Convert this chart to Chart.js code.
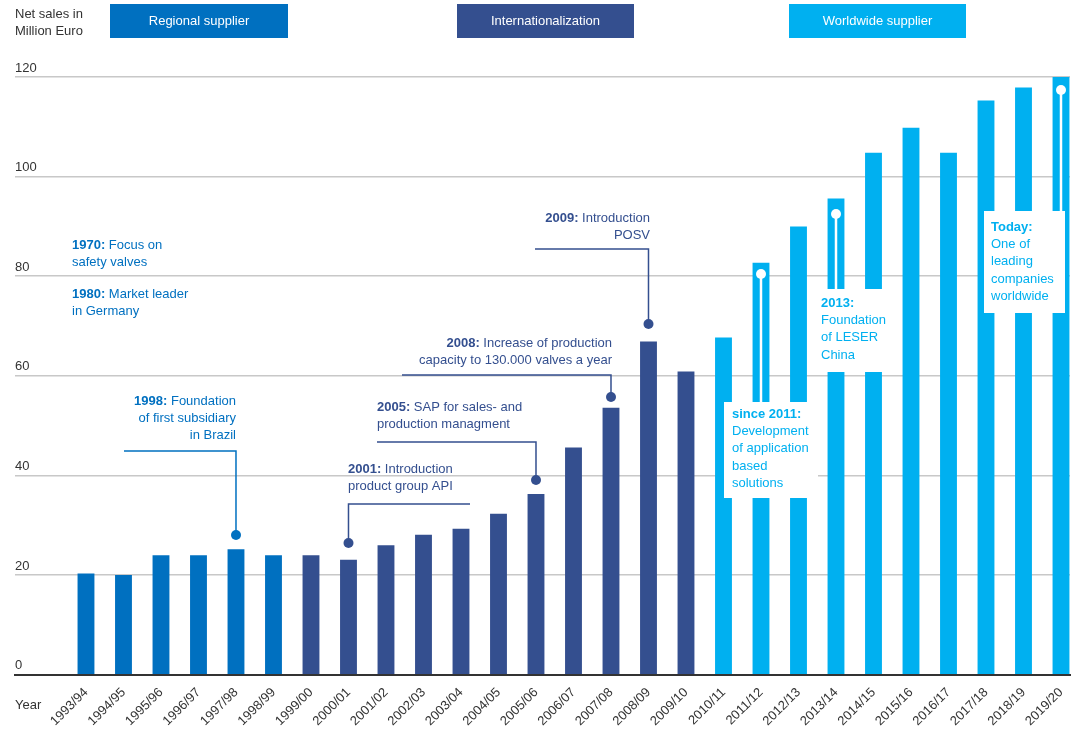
<!DOCTYPE html>
<html>
<head>
<meta charset="utf-8">
<script src="https://cdn.jsdelivr.net/npm/chart.js@4.4.1/dist/chart.umd.min.js"></script>
<style>
html, body { margin: 0; padding: 0; background: #fff; }
</style>
</head>
<body>
<canvas id="chart" width="1076" height="731"></canvas>
<script>
// Datos
const years = ['1993/94', '1994/95', '1995/96', '1996/97', '1997/98', '1998/99', '1999/00', '2000/01', '2001/02',
    '2002/03', '2003/04', '2004/05', '2005/06', '2006/07', '2007/08', '2008/09', '2009/10', '2010/11', '2011/12',
    '2012/13', '2013/14', '2014/15', '2015/16', '2016/17', '2017/18', '2018/19', '2019/20']
const sales = [20.3, 20.0, 24.0, 24.0, 25.2, 24.0, 24.0, 23.1, 26.0, 28.1, 29.3, 32.3, 36.3, 45.6, 53.6, 66.9, 60.9,
    67.7, 82.7, 90.0, 95.6, 104.8, 109.8, 104.8, 115.3, 117.9, 120.0]
// fase de cada barra: 0 regional, 1 internacionalización, 2 mundial
const phases = [0, 0, 0, 0, 0, 0, 1, 1, 1, 1, 1, 1, 1, 1, 1, 1, 1, 2, 2, 2, 2, 2, 2, 2, 2, 2, 2]
const phaseNames = ['Regional supplier', 'Internationalization', 'Worldwide supplier']
const yTicks = [0, 20, 40, 60, 80, 100, 120]

const FONT = '"Liberation Sans", Arial, sans-serif'
const colors = ['#0070c0', '#344f8f', '#00b0f0']

Chart.defaults.font.family = FONT
Chart.defaults.color = '#333'

// Textos de hitos (primera parte en negrita)
const callouts = [
    { color: 0, align: 'left', x: 72, y: 245, lines: [['1970: ', 'Focus on'], ['', 'safety valves']] },
    { color: 0, align: 'left', x: 72, y: 294, lines: [['1980: ', 'Market leader'], ['', 'in Germany']] },
    { bar: 4, color: 0, align: 'right', x: 236, y: 401, lines: [['1998: ', 'Foundation'], ['', 'of first subsidiary'], ['', 'in Brazil']], lineY: 451, lineEnd: 124, dotY: 535 },
    { bar: 7, color: 1, align: 'left', x: 348, y: 469, lines: [['2001: ', 'Introduction'], ['', 'product group API']], lineY: 504, lineEnd: 470, dotY: 543 },
    { bar: 12, color: 1, align: 'left', x: 377, y: 407, lines: [['2005: ', 'SAP for sales- and'], ['', 'production managment']], lineY: 442, lineEnd: 377, dotY: 480 },
    { bar: 14, color: 1, align: 'right', x: 612, y: 343, lines: [['2008: ', 'Increase of production'], ['', 'capacity to 130.000 valves a year']], lineY: 375, lineEnd: 402, dotY: 397 },
    { bar: 15, color: 1, align: 'right', x: 650, y: 218, lines: [['2009: ', 'Introduction'], ['', 'POSV']], lineY: 249, lineEnd: 535, dotY: 324 }
]

// Hitos en cajas blancas sobre las barras
const boxes = [
    { bar: 18, dotY: 274, box: [724, 402, 94, 96], x: 732, y: 414, lines: [['since 2011:', ''], ['', 'Development'], ['', 'of application'], ['', 'based'], ['', 'solutions']] },
    { bar: 20, dotY: 214, box: [815, 289, 86, 83], x: 821, y: 303, lines: [['2013:', ''], ['', 'Foundation'], ['', 'of LESER'], ['', 'China']] },
    { bar: 26, dotY: 90, box: [984, 211, 81, 102], x: 991, y: 227, lines: [['Today:', ''], ['', 'One of'], ['', 'leading'], ['', 'companies'], ['', 'worldwide']] }
]

function drawText(ctx, lines, x, y, align, color) {
    ctx.textBaseline = 'middle'
    ctx.textAlign = 'left'
    ctx.fillStyle = color
    lines.forEach(([b, r], k) => {
        ctx.font = 'bold 13px ' + FONT
        const wb = ctx.measureText(b).width
        ctx.font = '13px ' + FONT
        const wr = ctx.measureText(r).width
        const x0 = align === 'right' ? x - wb - wr : x
        const yy = y + k * 17.4
        ctx.font = 'bold 13px ' + FONT
        ctx.fillText(b, x0, yy)
        ctx.font = '13px ' + FONT
        ctx.fillText(r, x0 + wb, yy)
    })
}

const annotations = {
    id: 'annotations',
    afterDatasetsDraw(chart) {
        const ctx = chart.ctx
        const xs = chart.scales.x
        ctx.save()

        // Cabecera
        ctx.fillStyle = '#333'
        ctx.font = '13px ' + FONT
        ctx.textAlign = 'left'
        ctx.textBaseline = 'middle'
        ctx.fillText('Net sales in', 15, 14)
        ctx.fillText('Million Euro', 15, 31)
        ctx.fillText('Year', 15, 705)

        const heads = [[110, 178], [457, 177], [789, 177]]
        phaseNames.forEach((name, i) => {
            ctx.fillStyle = colors[i]
            ctx.fillRect(heads[i][0], 4, heads[i][1], 34)
            ctx.fillStyle = '#fff'
            ctx.textAlign = 'center'
            ctx.fillText(name, heads[i][0] + heads[i][1] / 2, 21)
        })

        // Hitos con línea y punto
        callouts.forEach(c => {
            const col = colors[c.color]
            drawText(ctx, c.lines, c.x, c.y, c.align, col)
            if (c.bar === undefined) return
            const bx = xs.getPixelForValue(c.bar)
            ctx.strokeStyle = col
            ctx.lineWidth = 1.5
            ctx.beginPath()
            ctx.moveTo(c.lineEnd, c.lineY)
            ctx.lineTo(bx, c.lineY)
            ctx.lineTo(bx, c.dotY)
            ctx.stroke()
            ctx.fillStyle = col
            ctx.beginPath()
            ctx.arc(bx, c.dotY, 5, 0, Math.PI * 2)
            ctx.fill()
        })

        // Cajas blancas
        boxes.forEach(b => {
            const bx = xs.getPixelForValue(b.bar)
            ctx.fillStyle = '#fff'
            ctx.fillRect(b.box[0], b.box[1], b.box[2], b.box[3])
            ctx.strokeStyle = '#fff'
            ctx.lineWidth = 2.5
            ctx.beginPath()
            ctx.moveTo(bx, b.dotY)
            ctx.lineTo(bx, b.box[1])
            ctx.stroke()
            ctx.beginPath()
            ctx.arc(bx, b.dotY, 5, 0, Math.PI * 2)
            ctx.fill()
            drawText(ctx, b.lines, b.x, b.y, 'left', colors[2])
        })

        ctx.restore()
    }
}

const data = {
    datasets: [{
        data: sales.map((v, i) => ({ x: i, y: v })),
        backgroundColor: phases.map(p => colors[p]),
        barPercentage: 0.45,
        categoryPercentage: 1
    }]
}

const options = {
    responsive: false,
    animation: false,
    layout: { padding: { top: 77, left: 15, right: 6, bottom: 0 } },
    plugins: {
        legend: { display: false },
        tooltip: { enabled: false }
    },
    scales: {
        x: {
            type: 'linear',
            offset: false,
            min: -1.893,
            max: 26.24,
            grid: { display: false, offset: false },
            border: { display: true, color: '#333', width: 2 },
            afterBuildTicks: axis => { axis.ticks = years.map((y, i) => ({ value: i })) },
            ticks: {
                autoSkip: false,
                minRotation: 45,
                maxRotation: 45,
                padding: 2,
                color: '#333',
                font: { size: 13 },
                callback: v => years[v]
            }
        },
        y: {
            min: 0,
            max: 120,
            afterBuildTicks: axis => { axis.ticks = yTicks.map(v => ({ value: v })) },
            grid: { color: '#c8c8c8', lineWidth: 1.5, drawTicks: false },
            border: { display: false },
            ticks: {
                mirror: true,
                padding: 0,
                labelOffset: -9,
                color: '#333',
                font: { size: 13 }
            }
        }
    }
}

new Chart('chart', { type: 'bar', data, options, plugins: [annotations] })
</script>
</body>
</html>
